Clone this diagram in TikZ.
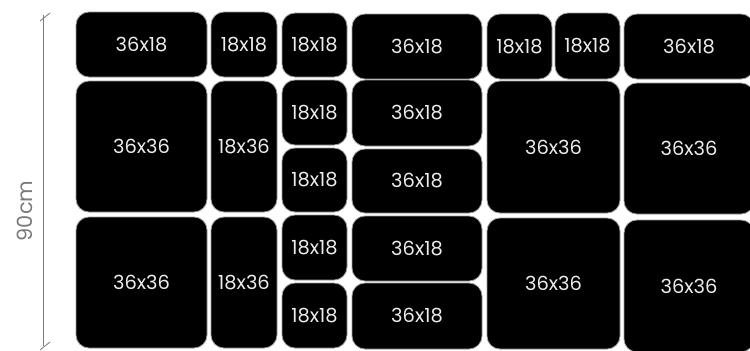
\documentclass[tikz,border=0pt]{standalone}
\usepackage{fontspec}
\setmainfont{Poppins}
\usepackage{tikz}
\usetikzlibrary{positioning,calc}
\definecolor{ink}     {HTML}{000000}
\definecolor{paper}   {HTML}{ECECEC}
\definecolor{rim}     {HTML}{9A9A9A}
\definecolor{dimgray} {HTML}{7A7A7A}
\tikzset{
  % --- tiles
  tile/.style   = {rectangle, rounded corners=13bp, fill=ink, draw=rim,
                   line width=0.8bp, inner sep=0pt, text=paper,
                   font=\fontsize{19.5}{22}\selectfont},
  sz/.style 2 args = {minimum width=#1bp, minimum height=#2bp},
  % --- dimension
  dim/.style    = {draw=dimgray, line width=0.8bp},
  dimlbl/.style = {text=dimgray, rotate=90, font=\fontsize{21}{24}\selectfont},
}
\begin{document}
\begin{tikzpicture}[x=1bp, y=-1bp]
  \useasboundingbox (0,0) rectangle (750,350);
  \clip (0,0) rectangle (750,350);

  % dimension line
  \coordinate (dtop) at (43,15);
  \coordinate (dbot) at (43,346);
  \draw[dim] (dtop) -- (dbot);
  \draw[dim] ($(dtop)+(-3,6)$) -- ($(dtop)+(7,-2)$);
  \draw[dim] ($(dbot)+(-3,4)$) -- ($(dbot)+(7,-4)$);
  \node[dimlbl] (height) at (25,211) {90cm};

  % top row
  \node[tile, sz={131}{65}] (a1) at (141.5,44.5) {36x18};
  \node[tile, sz={66}{65}]  (a2) at (244,44.5)   {18x18};
  \node[tile, sz={65}{64}]  (a3) at (314.5,45)   {18x18};
  \node[tile, sz={130}{65}] (a4) at (417,46.5)   {36x18};
  \node[tile, sz={65}{65}]  (a5) at (519.5,46.5) {18x18};
  \node[tile, sz={65}{66}]  (a6) at (587.5,46)   {18x18};
  \node[tile, sz={130}{65}] (a7) at (689,46.5)   {36x18};

  % middle row
  \node[tile, sz={131}{131}] (b1) at (141.5,146.5) {36x36};
  \node[tile, sz={66}{131}]  (b2) at (244,146.5)   {18x36};
  \node[tile, sz={65}{65}]   (b3) at (314.5,112.5) {18x18};
  \node[tile, sz={65}{64}]   (b4) at (314.5,180)   {18x18};
  \node[tile, sz={130}{66}]  (b5) at (417,113)     {36x18};
  \node[tile, sz={130}{64}]  (b6) at (417,181)     {36x18};
  \node[tile, sz={133}{132}] (b7) at (553.5,147)   {36x36};
  \node[tile, sz={130}{131}] (b8) at (689,148.5)   {36x36};

  % bottom row
  \node[tile, sz={131}{131}] (c1) at (141.5,282.5) {36x36};
  \node[tile, sz={66}{131}]  (c2) at (244,282.5)   {18x36};
  \node[tile, sz={65}{65}]   (c3) at (314.5,247.5) {18x18};
  \node[tile, sz={65}{65}]   (c4) at (314.5,315.5) {18x18};
  \node[tile, sz={130}{65}]  (c5) at (417,248.5)   {36x18};
  \node[tile, sz={130}{66}]  (c6) at (417,316)     {36x18};
  \node[tile, sz={133}{131}] (c7) at (553.5,283.5) {36x36};
  \node[tile, sz={130}{132}] (c8) at (689,286)     {36x36};
\end{tikzpicture}
\end{document}
